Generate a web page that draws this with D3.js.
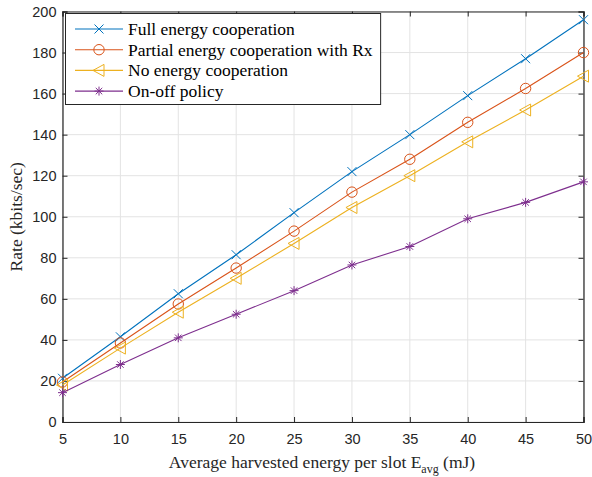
<!DOCTYPE html>
<html><head><meta charset="utf-8">
<script src="https://cdn.jsdelivr.net/npm/d3@7"></script>
<style>body{margin:0;background:#fff;} svg{display:block;}</style>
</head><body>
<svg id="c" width="592" height="477"></svg>
<script>
const energy = [5,10,15,20,25,30,35,40,45,50];
const fullCoop = [21.3,41.5,62.5,81.5,102,122,140,159,177,196];
const partialCoop = [19.5,38.5,57.5,75,93,112,128,146,162.5,180];
const noCoop = [18,36,53.5,70,87,104.5,120,136.5,152,168.5];
const onOff = [14.3,28,41,52.5,64,76.5,85.5,99,107,117];
const seriesNames = ["Full energy cooperation","Partial energy cooperation with Rx","No energy cooperation","On-off policy"];
const xTicks = [5,10,15,20,25,30,35,40,45,50];
const yTicks = [0,20,40,60,80,100,120,140,160,180,200];

const colors = ["#0072BD","#D95319","#EDB120","#7E2F8E"];
const markers = ["x","o","tri","star"];
const data = [fullCoop, partialCoop, noCoop, onOff];

const svg = d3.select("#c");
const L=62.5, R=583.5, T=11.5, B=422;
const x = d3.scaleLinear().domain([5,50]).range([L,R]);
const y = d3.scaleLinear().domain([0,200]).range([B,T]);

// grid
const g = svg.append("g");
g.selectAll(".gx").data(xTicks).enter().append("line")
 .attr("x1",d=>x(d)).attr("x2",d=>x(d)).attr("y1",T).attr("y2",B)
 .attr("stroke","#e3e3e3").attr("stroke-width",1);
g.selectAll(".gy").data(yTicks).enter().append("line")
 .attr("y1",d=>y(d)).attr("y2",d=>y(d)).attr("x1",L).attr("x2",R)
 .attr("stroke","#e3e3e3").attr("stroke-width",1);

// axes
const tickFont = "'Liberation Sans', Arial, sans-serif";
const ax = svg.append("g").attr("transform",`translate(0,${B})`)
 .call(d3.axisBottom(x).tickValues(xTicks).tickSize(-5).tickPadding(12).tickFormat(d3.format("d")));
const ay = svg.append("g").attr("transform",`translate(${L},0)`)
 .call(d3.axisLeft(y).tickValues(yTicks).tickSize(-5).tickPadding(6).tickFormat(d3.format("d")));
const axT = svg.append("g").attr("transform",`translate(0,${T})`)
 .call(d3.axisTop(x).tickValues(xTicks).tickSize(-5).tickFormat(""));
const ayR = svg.append("g").attr("transform",`translate(${R},0)`)
 .call(d3.axisRight(y).tickValues(yTicks).tickSize(-5).tickFormat(""));
[ax,ay,axT,ayR].forEach(a=>{
  a.selectAll("path").attr("stroke","#262626").attr("stroke-width",1.2);
  a.selectAll("line").attr("stroke","#262626");
  a.selectAll("text").attr("fill","#262626").style("font-family",tickFont).style("font-size","14.5px");
});

// lines and markers
function drawMarker(sel, type, color){
  const s=4.5;
  if(type==="x"){
    sel.append("path").attr("d",`M${-s},${-s}L${s},${s}M${-s},${s}L${s},${-s}`).attr("stroke",color).attr("stroke-width",1).attr("fill","none");
  } else if(type==="o"){
    sel.append("circle").attr("r",5.2).attr("stroke",color).attr("stroke-width",1).attr("fill","none");
  } else if(type==="tri"){
    sel.append("path").attr("d",`M-6,0L5,-6L5,6Z`).attr("stroke",color).attr("stroke-width",1).attr("fill","none");
  } else {
    const a=4.5;
    sel.append("path").attr("d",`M0,${-a}L0,${a}M${-a},0L${a},0M${-a*0.72},${-a*0.72}L${a*0.72},${a*0.72}M${-a*0.72},${a*0.72}L${a*0.72},${-a*0.72}`)
      .attr("stroke",color).attr("stroke-width",1).attr("fill","none");
  }
}
const line = d3.line().x((d,i)=>x(energy[i])).y(d=>y(d));
data.forEach((vals,k)=>{
  svg.append("path").datum(vals).attr("d",line).attr("fill","none").attr("stroke",colors[k]).attr("stroke-width",1.1);
  vals.forEach((v,i)=>{
    const m = svg.append("g").attr("transform",`translate(${x(energy[i])},${y(v)})`);
    drawMarker(m, markers[k], colors[k]);
  });
});

// legend
const serif = "'Liberation Serif','Times New Roman',serif";
const lg = svg.append("g");
const box = lg.append("rect").attr("x",65.5).attr("y",13.5).attr("height",91)
 .attr("fill","#fff").attr("stroke","#262626").attr("stroke-width",1);
let maxW = 0;
seriesNames.forEach((n,k)=>{
  const yy = 29 + k*20.7;
  lg.append("line").attr("x1",75).attr("x2",123).attr("y1",yy).attr("y2",yy).attr("stroke",colors[k]).attr("stroke-width",1.1);
  const m = lg.append("g").attr("transform",`translate(99,${yy})`);
  drawMarker(m, markers[k], colors[k]);
  const t = lg.append("text").attr("x",128).attr("y",yy+6).text(n)
   .style("font-family",serif).style("font-size","17.5px").attr("fill","#000");
  maxW = Math.max(maxW, t.node().getComputedTextLength());
});
box.attr("width", 128 + maxW + 8 - 65.5);

// axis labels
const xl = svg.append("text").attr("x",322).attr("y",468).attr("text-anchor","middle")
 .style("font-family",serif).style("font-size","17.5px").attr("fill","#262626");
xl.append("tspan").text("Average harvested energy per slot E");
xl.append("tspan").attr("dy",5).style("font-size","12px").text("avg");
xl.append("tspan").attr("dy",-5).text(" (mJ)");
svg.append("text").attr("transform",`translate(22,${(T+B)/2}) rotate(-90)`).attr("text-anchor","middle")
 .style("font-family",serif).style("font-size","17.5px").attr("fill","#262626").text("Rate (kbits/sec)");
</script>
</body></html>
